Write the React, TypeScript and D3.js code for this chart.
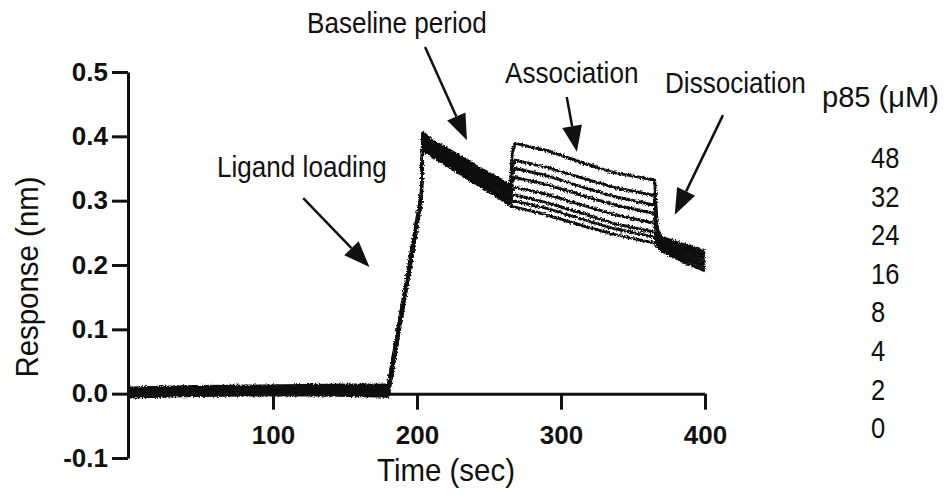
import { useEffect, useRef } from "react";
import * as d3 from "d3";

const width = 952;
const height = 499;

// sample times (sec) shared by every trace
const timeSec = [
  0, 45, 90, 135, 180, 203, 204, 210, 223, 240, 257, 265, 266, 268, 290, 315,
  336, 365, 366, 367, 370, 385, 400,
];

// response (nm) per p85 concentration
const resp48 = [0.009, 0.011, 0.012, 0.013, 0.014, 0.312, 0.406, 0.394, 0.378, 0.355, 0.334, 0.323, 0.372, 0.389, 0.378, 0.359, 0.344, 0.332, 0.29, 0.255, 0.243, 0.232, 0.222];
const resp32 = [0.007, 0.009, 0.01, 0.011, 0.011, 0.31, 0.402, 0.391, 0.374, 0.351, 0.33, 0.318, 0.352, 0.363, 0.352, 0.335, 0.321, 0.308, 0.28, 0.252, 0.24, 0.228, 0.218];
const resp24 = [0.005, 0.007, 0.008, 0.009, 0.008, 0.308, 0.398, 0.387, 0.37, 0.347, 0.326, 0.314, 0.34, 0.35, 0.339, 0.321, 0.307, 0.293, 0.27, 0.248, 0.237, 0.225, 0.214];
const resp16 = [0.003, 0.005, 0.006, 0.006, 0.006, 0.306, 0.395, 0.384, 0.366, 0.343, 0.322, 0.31, 0.329, 0.336, 0.325, 0.308, 0.294, 0.28, 0.262, 0.245, 0.234, 0.221, 0.21];
const resp8 = [0.001, 0.003, 0.004, 0.004, 0.003, 0.304, 0.392, 0.381, 0.362, 0.339, 0.318, 0.305, 0.316, 0.321, 0.31, 0.293, 0.279, 0.265, 0.254, 0.241, 0.231, 0.217, 0.205];
const resp4 = [-0.001, 0.001, 0.002, 0.002, 0.001, 0.302, 0.388, 0.377, 0.359, 0.335, 0.313, 0.301, 0.306, 0.309, 0.297, 0.28, 0.265, 0.251, 0.245, 0.237, 0.228, 0.213, 0.2];
const resp2 = [-0.003, -0.001, 0, 0, -0.002, 0.3, 0.384, 0.374, 0.355, 0.332, 0.309, 0.296, 0.298, 0.299, 0.288, 0.271, 0.257, 0.243, 0.239, 0.233, 0.225, 0.209, 0.196];
const resp0 = [-0.005, -0.003, -0.002, -0.002, -0.004, 0.298, 0.38, 0.37, 0.352, 0.328, 0.305, 0.292, 0.291, 0.29, 0.278, 0.261, 0.248, 0.234, 0.232, 0.229, 0.222, 0.205, 0.191];

const concentrations = ["48", "32", "24", "16", "8", "4", "2", "0"];
const traces = [resp48, resp32, resp24, resp16, resp8, resp4, resp2, resp0];

const xTicks = [100, 200, 300, 400];
const yTicks = [-0.1, 0, 0.1, 0.2, 0.3, 0.4, 0.5];

// arrows in data units: [time, response]
const annotations = [
  { text: "Ligand loading", tx: 217, ty: 177, from: [121, 0.304], to: [167, 0.197] },
  { text: "Baseline period", tx: 307, ty: 33, from: [205.6, 0.539], to: [234.7, 0.394] },
  { text: "Association", tx: 505, ty: 83, from: [304, 0.461], to: [311, 0.376] },
  { text: "Dissociation", tx: 665, ty: 93, from: [412.5, 0.433], to: [379, 0.278] },
];

const font = "'Liberation Sans', Arial, sans-serif";
const ink = "#111";

const App = () => {
  const svgRef = useRef<SVGSVGElement | null>(null);

  useEffect(() => {
    const svg = d3.select(svgRef.current);
    svg.selectAll("*").remove();

    const x = d3.scaleLinear().domain([0, 400]).range([129, 705]);
    const y = d3.scaleLinear().domain([-0.1, 0.5]).range([458, 72]);

    // rough look for the instrument noise on the traces
    const filter = svg
      .append("defs")
      .append("filter")
      .attr("id", "jitter")
      .attr("x", "-5%")
      .attr("y", "-5%")
      .attr("width", "110%")
      .attr("height", "110%");
    filter
      .append("feTurbulence")
      .attr("type", "fractalNoise")
      .attr("baseFrequency", "0.6")
      .attr("numOctaves", 2)
      .attr("seed", 3)
      .attr("result", "noise");
    filter
      .append("feDisplacementMap")
      .attr("in", "SourceGraphic")
      .attr("in2", "noise")
      .attr("scale", 4)
      .attr("xChannelSelector", "R")
      .attr("yChannelSelector", "G");

    // traces
    const line = d3
      .line<number>()
      .x((_, i) => x(timeSec[i]))
      .y((d) => y(d));

    svg
      .append("g")
      .attr("filter", "url(#jitter)")
      .selectAll("path")
      .data(traces.slice().reverse())
      .enter()
      .append("path")
      .attr("d", (d) => line(d))
      .attr("fill", "none")
      .attr("stroke", ink)
      .attr("stroke-width", 3)
      .attr("stroke-linejoin", "round");

    // axes
    const yAxis = svg
      .append("g")
      .attr("transform", "translate(128,0)")
      .call(
        d3
          .axisLeft(y)
          .tickValues(yTicks)
          .tickSize(16)
          .tickSizeOuter(0)
          .tickPadding(4)
          .tickFormat((d) => (d as number).toFixed(1))
      );

    const xAxis = svg
      .append("g")
      .attr("transform", `translate(0,${y(0)})`)
      .call(
        d3
          .axisBottom(x)
          .tickValues(xTicks)
          .tickSize(16)
          .tickSizeOuter(0)
          .tickPadding(16)
      );
    xAxis.select(".domain").attr("d", `M128.5,0.5H${x(400)}`);

    [yAxis, xAxis].forEach((ax) => {
      ax.selectAll("path, line").attr("stroke", ink).attr("stroke-width", 3);
      ax.selectAll("text")
        .attr("fill", ink)
        .style("font-family", font)
        .style("font-size", "26px")
        .style("font-weight", "bold");
    });

    // axis titles
    svg
      .append("text")
      .attr("transform", "translate(38,277) rotate(-90) scale(0.95,1)")
      .attr("text-anchor", "middle")
      .style("font-family", font)
      .style("font-size", "31px")
      .attr("fill", ink)
      .text("Response (nm)");

    svg
      .append("text")
      .attr("transform", "translate(446,481) scale(0.95,1)")
      .attr("text-anchor", "middle")
      .style("font-family", font)
      .style("font-size", "31px")
      .attr("fill", ink)
      .text("Time (sec)");

    // annotations with arrows
    annotations.forEach((a) => {
      svg
        .append("text")
        .attr("transform", `translate(${a.tx},${a.ty}) scale(0.9,1)`)
        .style("font-family", font)
        .style("font-size", "29px")
        .attr("fill", ink)
        .text(a.text);

      const x0 = x(a.from[0]);
      const y0 = y(a.from[1]);
      const x1 = x(a.to[0]);
      const y1 = y(a.to[1]);
      const ang = Math.atan2(y1 - y0, x1 - x0);
      const headLen = 26;
      const headHalf = 10;
      const bx = x1 - headLen * Math.cos(ang);
      const by = y1 - headLen * Math.sin(ang);
      svg
        .append("line")
        .attr("x1", x0)
        .attr("y1", y0)
        .attr("x2", bx)
        .attr("y2", by)
        .attr("stroke", ink)
        .attr("stroke-width", 2.5);
      const px = -Math.sin(ang) * headHalf;
      const py = Math.cos(ang) * headHalf;
      svg
        .append("polygon")
        .attr(
          "points",
          `${x1},${y1} ${bx + px},${by + py} ${bx - px},${by - py}`
        )
        .attr("fill", ink);
    });

    // legend
    svg
      .append("text")
      .attr("transform", "translate(822,107) scale(0.97,1)")
      .style("font-family", font)
      .style("font-size", "30px")
      .attr("fill", ink)
      .text("p85 (\u03bcM)");

    svg
      .append("g")
      .selectAll("text")
      .data(concentrations)
      .enter()
      .append("text")
      .attr("transform", (_, i) => `translate(871,${168 + i * 38.6}) scale(0.88,1)`)
      .style("font-family", font)
      .style("font-size", "29px")
      .attr("fill", ink)
      .text((d) => d);
  }, []);

  return (
    <svg
      ref={svgRef}
      width={width}
      height={height}
      style={{ position: "absolute", left: 0, top: 0, background: "#fff" }}
    ></svg>
  );
};

export default App;
